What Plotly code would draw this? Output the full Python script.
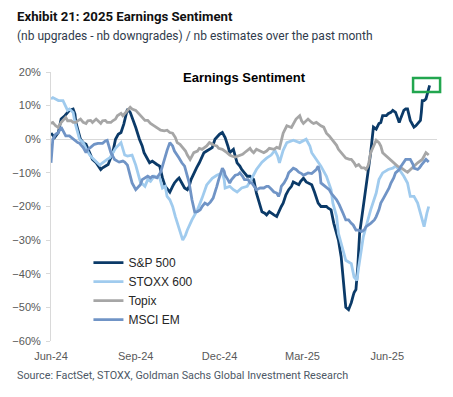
import pandas as pd
import plotly.graph_objects as go

BASE = pd.Timestamp("2024-06-01")

# Days since 1-Jun-2024 and values (%)
sp_days = [0,4,8,11,15,20,24,26,27,32,35,38,42,45,49,54,56,59,62,67,70,73,76,79,81,83,86,89,92,96,99,101,104,107,110,112,115,118,121,124,127,129,132,134,137,139,142,145,148,150,152,155,158,161,164,166,169,172,175,178,181,183,186,188,189,192,194,196,198,200,202,205,207,210,213,216,220,223,226,229,232,234,237,239,242,245,248,250,252,255,258,261,263,266,269,271,274,277,280,283,286,288,290,293,296,299,301,304,307,310,312,315,317,320,323,326,328,329,331,333,335,337,339,342,345,347,350,353,356,358,360,364,366,369,371,374,376,378,380,383,385,387,390,393,394,396,398,401,402,403,405,407,409,411]
sp_vals = [1.8,0.5,2,6,7,8.6,9,7.5,5,0,-1,-1.5,-4,-6,-7,-9,-8.5,-8,-7.5,-4,0,1.5,2,4.5,7,9,8,6,3.5,0,-2,-4,-5.5,-7,-6.5,-7,-7.5,-8,-11.5,-14,-15,-15.7,-14,-13,-12,-11.5,-13,-14.5,-15,-14,-12,-10,-8.5,-7,-5,-4,-3.5,-3,-2.5,0,1,1.5,2,1,0.5,-2,-4,-3.5,-3,-5,-7,-8,-9,-10,-11,-11,-12,-16,-19,-21.6,-22,-22.5,-21.5,-22,-22.5,-23,-21,-20,-19,-16.5,-15,-14,-12.7,-13,-13.5,-12.5,-11.6,-12.7,-13,-13.5,-15.7,-17.5,-19,-20,-20,-20,-20.5,-21,-25,-28,-30,-35,-42,-50,-50.7,-48.6,-46.5,-45.6,-44.7,-38,-28,-24,-21,-14,-9,-4,3.6,3,4.7,5,7,7,7.6,8,8.6,8,6.5,5,6.5,8.6,9,9,5.6,4.3,3.6,4,4.7,5.6,8,11.5,11.5,12,14,16]

stoxx_days = [0,2,8,13,18,20,24,26,31,35,38,42,45,51,53,56,58,61,64,67,70,76,80,83,88,92,94,97,102,105,108,112,118,121,124,126,129,132,135,140,143,146,148,153,159,164,169,175,180,186,188,189,194,198,202,207,213,218,223,229,234,239,243,246,248,252,256,263,270,277,281,283,288,293,299,304,306,310,312,315,320,323,326,329,332,334,337,339,342,344,347,353,356,360,366,371,374,378,383,387,390,394,398,401,405,408,410]
stoxx_vals = [12,12.4,11.5,11.5,8.6,9,8,5,0,-1,-2.7,-4.7,-5.6,-7,-7.7,-7,-6.5,-6,-5.5,-4,-2.7,-1,-4.7,-5,-4.7,-7.7,-10,-12.7,-14,-12,-12.5,-11,-11.5,-14.5,-14,-17,-18,-20,-23,-27,-30,-28.5,-27,-24,-21,-17.5,-13.6,-11.6,-10.7,-10,-12,-14.5,-14,-15,-15.7,-14.5,-14,-11.6,-9,-6.8,-5.6,-4.7,-3.3,-5,-7,-3.3,-1,-0.3,-1,0,-2,-4,-6,-8,-11,-15,-19,-23,-28,-31,-36,-36.5,-37,-41,-42,-38,-33,-29,-26,-24,-21,-16,-12,-10,-9,-8.6,-8,-9,-11,-13,-17,-17,-19,-22,-26,-22,-20]

topix_days = [0,2,5,8,11,13,16,18,22,24,27,29,32,35,38,40,43,45,49,51,54,56,59,61,65,67,70,72,76,78,81,83,86,88,92,94,97,99,102,105,108,112,115,119,123,126,129,132,135,137,140,142,146,148,151,153,155,159,161,164,166,169,172,175,177,180,182,186,188,191,194,196,200,203,205,208,210,214,216,218,220,223,227,231,234,237,242,245,248,252,256,261,264,266,270,272,274,277,279,283,285,288,290,293,296,299,302,304,306,310,312,315,318,320,324,326,329,331,334,337,340,342,344,345,347,350,353,356,358,360,364,366,369,371,374,376,380,382,385,387,390,393,396,398,401,403,407,410]
topix_vals = [4.7,5,4,3.5,5,5.5,6.5,5.5,5.5,5,5,5.5,6,5,4.7,5.5,5.6,5,6,5.5,4.7,5.5,5.6,5,5,5.5,6,7,7.7,7,8,8.5,9.5,9,8.6,8,7,6.5,5.6,5.6,4.7,4,3.5,2.7,2.5,2.7,2,1.8,0.5,-1,-1.5,-2.3,-3.5,-4.7,-6,-5,-4,-3.5,-2.7,-3,-2.7,-2,-1,-1.5,-1.8,-2,-2.7,-3,-3.3,-4,-4.7,-5,-5.3,-5,-4.7,-4.5,-4,-3,-2.7,-3.5,-4,-3,-3.5,-4,-3.5,-2.7,-3,-2.4,-2.7,1.8,4,3.5,5,6,7,5.5,4.7,5.5,6,5,4.7,5,4.5,4,3.6,1.8,1,0.3,-0.5,-1.8,-3,-4,-5,-5.6,-6,-6,-7,-8,-7.5,-8.5,-8.5,-9,-8,-7,-4,-2.3,-0.3,-1,-2,-4,-5,-5.6,-6.5,-7,-7.5,-8,-8.5,-9,-9.5,-9.8,-9,-8,-7.5,-7,-6.5,-6,-4,-4.7]

em_days = [0,1,2,5,8,11,13,16,20,24,26,29,31,35,38,40,43,47,51,56,59,61,65,67,69,72,74,78,80,83,86,88,92,94,97,99,102,105,108,110,115,119,121,124,126,129,132,134,137,139,142,145,148,150,153,156,159,162,164,167,170,173,176,178,180,182,186,188,189,192,194,196,200,203,205,208,210,214,216,218,221,223,227,231,234,236,239,242,245,247,249,250,253,256,258,261,263,266,269,272,274,277,279,283,285,288,290,292,293,297,299,302,304,307,310,313,315,317,320,323,326,328,331,334,337,340,342,345,347,351,353,356,358,361,364,367,369,372,374,378,380,383,385,388,390,393,394,398,400,402,405,407,410]
em_vals = [-7,-3,0,1.5,2,3.6,2.5,1,1,0,-0.3,-1,-1.2,-2.5,-4,-3,-2.4,-1.5,-1.2,-1.2,-0.5,-0.3,-4,-5,-6,-6.5,-6.8,-6.5,-6.8,-7.7,-10.7,-13,-15,-14.5,-13.5,-12,-11.5,-11,-11.5,-11,-11.5,-9.8,-8,-5,-3.3,-1,-2,-3.5,-5,-5.6,-7,-8,-11,-13,-18,-21.6,-21.5,-21,-20,-19,-19.5,-18.7,-17.5,-16,-14,-12,-8.6,-9.5,-10.7,-12,-13,-12,-10.7,-10.5,-10,-11,-12,-12,-13,-13,-14,-15,-14.5,-14.5,-14,-14,-14.8,-15.7,-16,-17,-15.5,-14,-13,-11.5,-10,-9,-8.6,-9,-9.8,-10.2,-10.7,-10.3,-10,-10.2,-9.8,-9,-8,-10,-13,-14,-14.5,-15,-16,-17,-18,-19.5,-21,-22,-24,-24,-25,-25.5,-27,-27,-27.5,-27,-26,-25.5,-25,-24,-23,-21,-19,-17.5,-16,-14.5,-13,-11.5,-10,-9,-8,-7,-6,-6,-6,-7.5,-8.6,-9,-8.5,-7.7,-6.5,-6,-6.8]

series_names = ["S&P 500", "STOXX 600", "Topix", "MSCI EM"]
series_days = [sp_days, stoxx_days, topix_days, em_days]
series_vals = [sp_vals, stoxx_vals, topix_vals, em_vals]
series_colors = ["#0b3a68", "#a0cbee", "#a6a6a6", "#7094c6"]

tick_dates = ["2024-06-01", "2024-09-01", "2024-12-01", "2025-03-01", "2025-06-01"]
tick_labels = ["Jun-24", "Sep-24", "Dec-24", "Mar-25", "Jun-25"]
x_range = ["2024-06-01", "2025-07-25"]

fig = go.Figure()
for name, d, v, c in zip(series_names, series_days, series_vals, series_colors):
    dates = BASE + pd.to_timedelta(d, unit="D")
    fig.add_trace(go.Scatter(x=dates, y=v, name=name, mode="lines",
                             line=dict(color=c, width=2.8)))

axis_font = dict(family="Liberation Sans, Arial, sans-serif", size=11, color="#595959")
fig.update_layout(
    width=453, height=397,
    margin=dict(l=48, r=16, t=72, b=56),
    paper_bgcolor="white", plot_bgcolor="white",
    showlegend=True,
    legend=dict(x=0.097, y=0.345, xanchor="left", yanchor="top",
                font=dict(family="Liberation Sans, Arial, sans-serif", size=12, color="#262626"),
                bgcolor="rgba(0,0,0,0)", tracegroupgap=0),
    xaxis=dict(type="date", range=x_range, tickvals=tick_dates, ticktext=tick_labels,
               showgrid=False, showline=False, zeroline=False, ticks="outside",
               ticklen=5, tickcolor="rgba(0,0,0,0)", tickfont=axis_font),
    xaxis2=dict(type="date", range=x_range, tickvals=tick_dates, overlaying="x",
                anchor="free", position=0.75, showticklabels=False, ticks="outside",
                ticklen=3, tickcolor="#d9d9d9", showline=False, showgrid=False, zeroline=False),
    yaxis=dict(range=[-60, 20], dtick=10, ticksuffix="%", showgrid=False,
               showline=True, linecolor="#d9d9d9", ticks="outside", ticklen=4,
               tickcolor="#d9d9d9", zeroline=True, zerolinecolor="#d9d9d9",
               zerolinewidth=1, tickfont=axis_font, ticklabelstandoff=3),
)

title_font = "Roboto, Arial, sans-serif"
fig.add_annotation(text="<b>Exhibit 21: 2025 Earnings Sentiment</b>", xref="paper", yref="paper",
                   x=-0.0925, y=1.208, xanchor="left", yanchor="middle", showarrow=False,
                   font=dict(family=title_font, size=13.2, color="#111111"))
fig.add_annotation(text="(nb upgrades - nb downgrades) / nb estimates over the past month",
                   xref="paper", yref="paper", x=-0.0925, y=1.134, xanchor="left",
                   yanchor="middle", showarrow=False,
                   font=dict(family=title_font, size=12, color="#2f3b4c"))
fig.add_annotation(text="Source: FactSet, STOXX, Goldman Sachs Global Investment Research",
                   xref="paper", yref="paper", x=-0.0925, y=-0.130, xanchor="left",
                   yanchor="middle", showarrow=False,
                   font=dict(family=title_font, size=10.8, color="#4d5866"))
fig.add_annotation(text="<b>Earnings Sentiment</b>", xref="paper", yref="paper",
                   x=0.501, y=0.978, xanchor="center", yanchor="middle", showarrow=False,
                   font=dict(family="Liberation Sans, Arial, sans-serif", size=13, color="#000000"))

fig.add_shape(type="rect", xref="paper", yref="paper", x0=0.938, x1=1.008, y0=0.926, y1=0.978,
              line=dict(color="#22a64f", width=2.5), fillcolor="rgba(0,0,0,0)")

fig.write_html("out.html", config={"displayModeBar": False},
               post_script="document.body.style.margin='0';")
